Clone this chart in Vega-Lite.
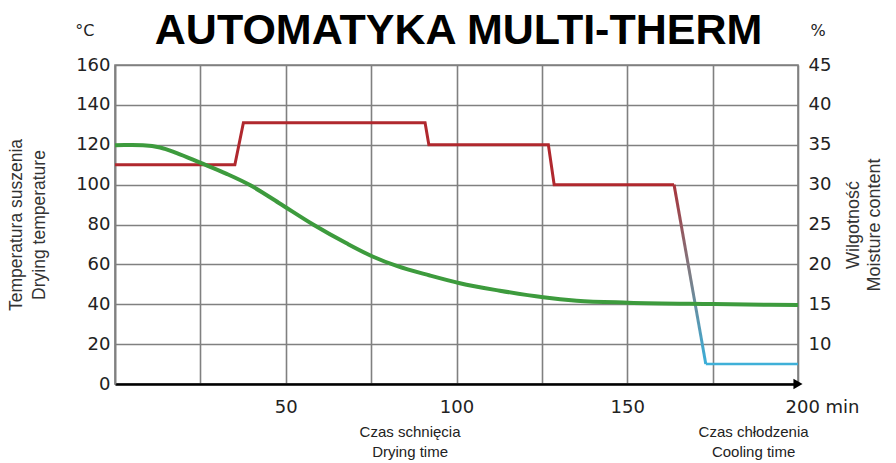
{
  "$schema": "https://vega.github.io/schema/vega-lite/v6.json",
  "width": 683,
  "height": 319,
  "autosize": {"type": "none"},
  "padding": {"left": 115, "top": 65, "right": 98, "bottom": 79},
  "background": "white",
  "config": {
    "view": {"stroke": "#808080", "strokeWidth": 1.6},
    "font": "Liberation Sans",
    "axis": {"labelOverlap": false, "labelBound": false, "labelFlush": false}
  },
  "datasets": {
    "temp": [
      {"t": 0, "T": 110}, {"t": 35.1, "T": 110}, {"t": 37.6, "T": 131}, {"t": 90.8, "T": 131},
      {"t": 91.9, "T": 120}, {"t": 126.9, "T": 120}, {"t": 128.6, "T": 100}, {"t": 163.7, "T": 100}
    ],
    "drop": [{"t": 163.7, "T": 100}, {"t": 173, "T": 10}],
    "cool": [{"t": 173, "T": 10}, {"t": 200, "T": 10}],
    "moist": [
      {"t": 0, "m": 34.95}, {"t": 5, "m": 34.96}, {"t": 8.2, "m": 34.93}, {"t": 13.2, "m": 34.66},
      {"t": 18.1, "m": 33.95}, {"t": 24.9, "m": 32.75}, {"t": 32.7, "m": 31.35}, {"t": 39.5, "m": 29.95},
      {"t": 48, "m": 27.7}, {"t": 58, "m": 25.0}, {"t": 67.8, "m": 22.64}, {"t": 75.6, "m": 20.96},
      {"t": 82.5, "m": 19.8}, {"t": 92.2, "m": 18.6}, {"t": 101, "m": 17.63}, {"t": 112.7, "m": 16.7},
      {"t": 125.4, "m": 15.87}, {"t": 135.2, "m": 15.45}, {"t": 150.3, "m": 15.2}, {"t": 175.2, "m": 15.03},
      {"t": 200, "m": 14.9}
    ],
    "notes": [
      {"t": 86.4, "T": -24, "label": "Czas schnięcia"},
      {"t": 86.4, "T": -34, "label": "Drying time"},
      {"t": 187, "T": -24, "label": "Czas chłodzenia"},
      {"t": 187, "T": -34, "label": "Cooling time"}
    ],
    "units": [
      {"t": -8.8, "T": 177, "label": "°C"},
      {"t": 205.9, "T": 177, "label": "%"}
    ],
    "heading": [
      {"t": 100.6, "T": 177, "label": "AUTOMATYKA MULTI-THERM"}
    ]
  },
  "layer": [
    {
      "layer": [
        {
          "data": {"name": "temp"},
          "mark": {"type": "line", "color": "#b0282e", "strokeWidth": 3},
          "encoding": {
            "x": {
              "field": "t", "type": "quantitative",
              "scale": {"domain": [0, 200], "nice": false},
              "axis": {
                "values": [0, 25, 50, 75, 100, 125, 150, 175, 200],
                "labelExpr": "datum.value == 200 ? '200 min' : (datum.value > 0 && datum.value % 50 == 0 ? datum.label : '')",
                "labelOffset": {"condition": {"test": "datum.value == 200", "value": 24}, "value": 0},
                "grid": true, "gridColor": "#808080", "gridWidth": 1.6,
                "domainColor": "#000", "domainWidth": 2.5,
                "ticks": false, "labelPadding": 14,
                "labelFont": "DejaVu Sans", "labelFontSize": 18, "labelColor": "#222",
                "title": null
              }
            },
            "y": {
              "field": "T", "type": "quantitative",
              "scale": {"domain": [0, 160], "nice": false},
              "axis": {
                "values": [0, 20, 40, 60, 80, 100, 120, 140, 160],
                "tickCount": 9,
                "grid": true, "gridColor": "#808080", "gridWidth": 1.6,
                "domainColor": "#808080", "domainWidth": 1.6,
                "ticks": false, "labelPadding": 5,
                "labelFont": "DejaVu Sans", "labelFontSize": 18, "labelColor": "#222",
                "title": ["Temperatura suszenia", "Drying temperature"],
                "titleFont": "Liberation Sans", "titleFontSize": 17.5, "titleFontWeight": "normal",
                "titleColor": "#333", "titlePadding": 27, "titleLineHeight": 23
              }
            }
          }
        },
        {
          "data": {"name": "drop"},
          "mark": {
            "type": "line", "strokeWidth": 3,
            "color": {"gradient": "linear", "x1": 0, "y1": 0, "x2": 0, "y2": 1,
              "stops": [{"offset": 0, "color": "#a8333a"}, {"offset": 0.5, "color": "#7d7d85"}, {"offset": 1, "color": "#3aaed8"}]}
          },
          "encoding": {"x": {"field": "t", "type": "quantitative"}, "y": {"field": "T", "type": "quantitative"}}
        },
        {
          "data": {"name": "cool"},
          "mark": {"type": "line", "color": "#3fb0d8", "strokeWidth": 2.5},
          "encoding": {"x": {"field": "t", "type": "quantitative"}, "y": {"field": "T", "type": "quantitative"}}
        },
        {
          "data": {"values": [{}]},
          "mark": {"type": "point", "shape": "triangle-right", "filled": true, "color": "#000", "size": 110, "opacity": 1},
          "encoding": {"x": {"datum": 200}, "y": {"datum": 0}}
        },
        {
          "data": {"name": "notes"},
          "mark": {"type": "text", "font": "Liberation Sans", "fontSize": 15, "color": "#222", "baseline": "middle", "align": "center"},
          "encoding": {"x": {"field": "t", "type": "quantitative"}, "y": {"field": "T", "type": "quantitative"}, "text": {"field": "label"}}
        },
        {
          "data": {"name": "units"},
          "mark": {"type": "text", "font": "DejaVu Sans", "fontSize": 16, "color": "#222", "baseline": "middle", "align": "center"},
          "encoding": {"x": {"field": "t", "type": "quantitative"}, "y": {"field": "T", "type": "quantitative"}, "text": {"field": "label"}}
        },
        {
          "data": {"name": "heading"},
          "mark": {"type": "text", "font": "Liberation Sans", "fontSize": 43, "fontWeight": "bold", "color": "#000", "baseline": "middle", "align": "center"},
          "encoding": {"x": {"field": "t", "type": "quantitative"}, "y": {"field": "T", "type": "quantitative"}, "text": {"field": "label"}}
        }
      ]
    },
    {
      "data": {"name": "moist"},
      "mark": {"type": "line", "color": "#3d9b3d", "strokeWidth": 4, "interpolate": "monotone"},
      "encoding": {
        "x": {"field": "t", "type": "quantitative"},
        "y": {
          "field": "m", "type": "quantitative",
          "scale": {"domain": [5, 45], "nice": false},
          "axis": {
            "orient": "right",
            "values": [10, 15, 20, 25, 30, 35, 40, 45],
            "grid": false, "domain": false, "ticks": false, "labelPadding": 10,
            "labelFont": "DejaVu Sans", "labelFontSize": 18, "labelColor": "#222",
            "title": ["Wilgotność", "Moisture content"],
            "titleFont": "Liberation Sans", "titleFontSize": 18, "titleFontWeight": "normal",
            "titleColor": "#333", "titlePadding": 11, "titleLineHeight": 21, "titleAngle": 270
          }
        }
      }
    }
  ],
  "resolve": {"scale": {"y": "independent"}}
}
